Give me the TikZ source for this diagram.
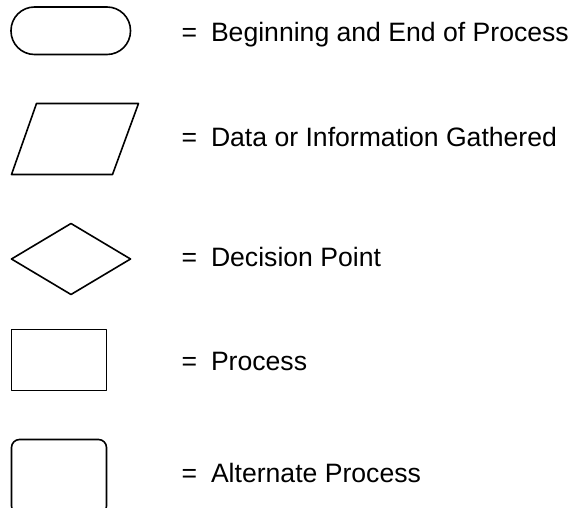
\documentclass[tikz,border=0pt]{standalone}
\usepackage{fontspec}
\setmainfont{Liberation Sans}
\begin{document}
\begin{tikzpicture}[x=1pt,y=-1pt,
  shapeline/.style={draw=black,line width=1.6pt,line join=round},
  legendtxt/.style={anchor=base west,inner sep=0pt,outer sep=0pt,font=\fontsize{26.6}{30}\selectfont}]
\useasboundingbox[fill=white] (0,0) rectangle (574,508);
\begin{scope}
\clip (0,0) rectangle (574,508);
% terminator
\draw[shapeline,rounded corners=23.5pt] (11,7) rectangle (130.5,54.5);
% data
\draw[shapeline] (36.5,103.5) -- (138.5,103.5) -- (112.5,174.5) -- (11.5,174.5) -- cycle;
% decision
\draw[shapeline] (11.5,259) -- (71,223.5) -- (130.5,259) -- (71,294.5) -- cycle;
% process
\draw[shapeline] (11.5,329.5) rectangle (106.5,390.5);
% alternate process
\draw[shapeline,rounded corners=8pt] (11.5,439.5) rectangle (106.5,514);
\end{scope}
% labels
\node[legendtxt] (eq1) at (181.7,41.7) {=};
\node[legendtxt] (t1) at (211,41.7) {Beginning and End of Process};
\node[legendtxt] (eq2) at (181.7,146.7) {=};
\node[legendtxt] (t2) at (211,146.7) {Data or Information Gathered};
\node[legendtxt] (eq3) at (181.7,266.7) {=};
\node[legendtxt] (t3) at (211,266.7) {Decision Point};
\node[legendtxt] (eq4) at (181.7,370.7) {=};
\node[legendtxt] (t4) at (211,370.7) {Process};
\node[legendtxt] (eq5) at (181.7,482) {=};
\node[legendtxt] (t5) at (211,482) {Alternate Process};
\end{tikzpicture}
\end{document}
